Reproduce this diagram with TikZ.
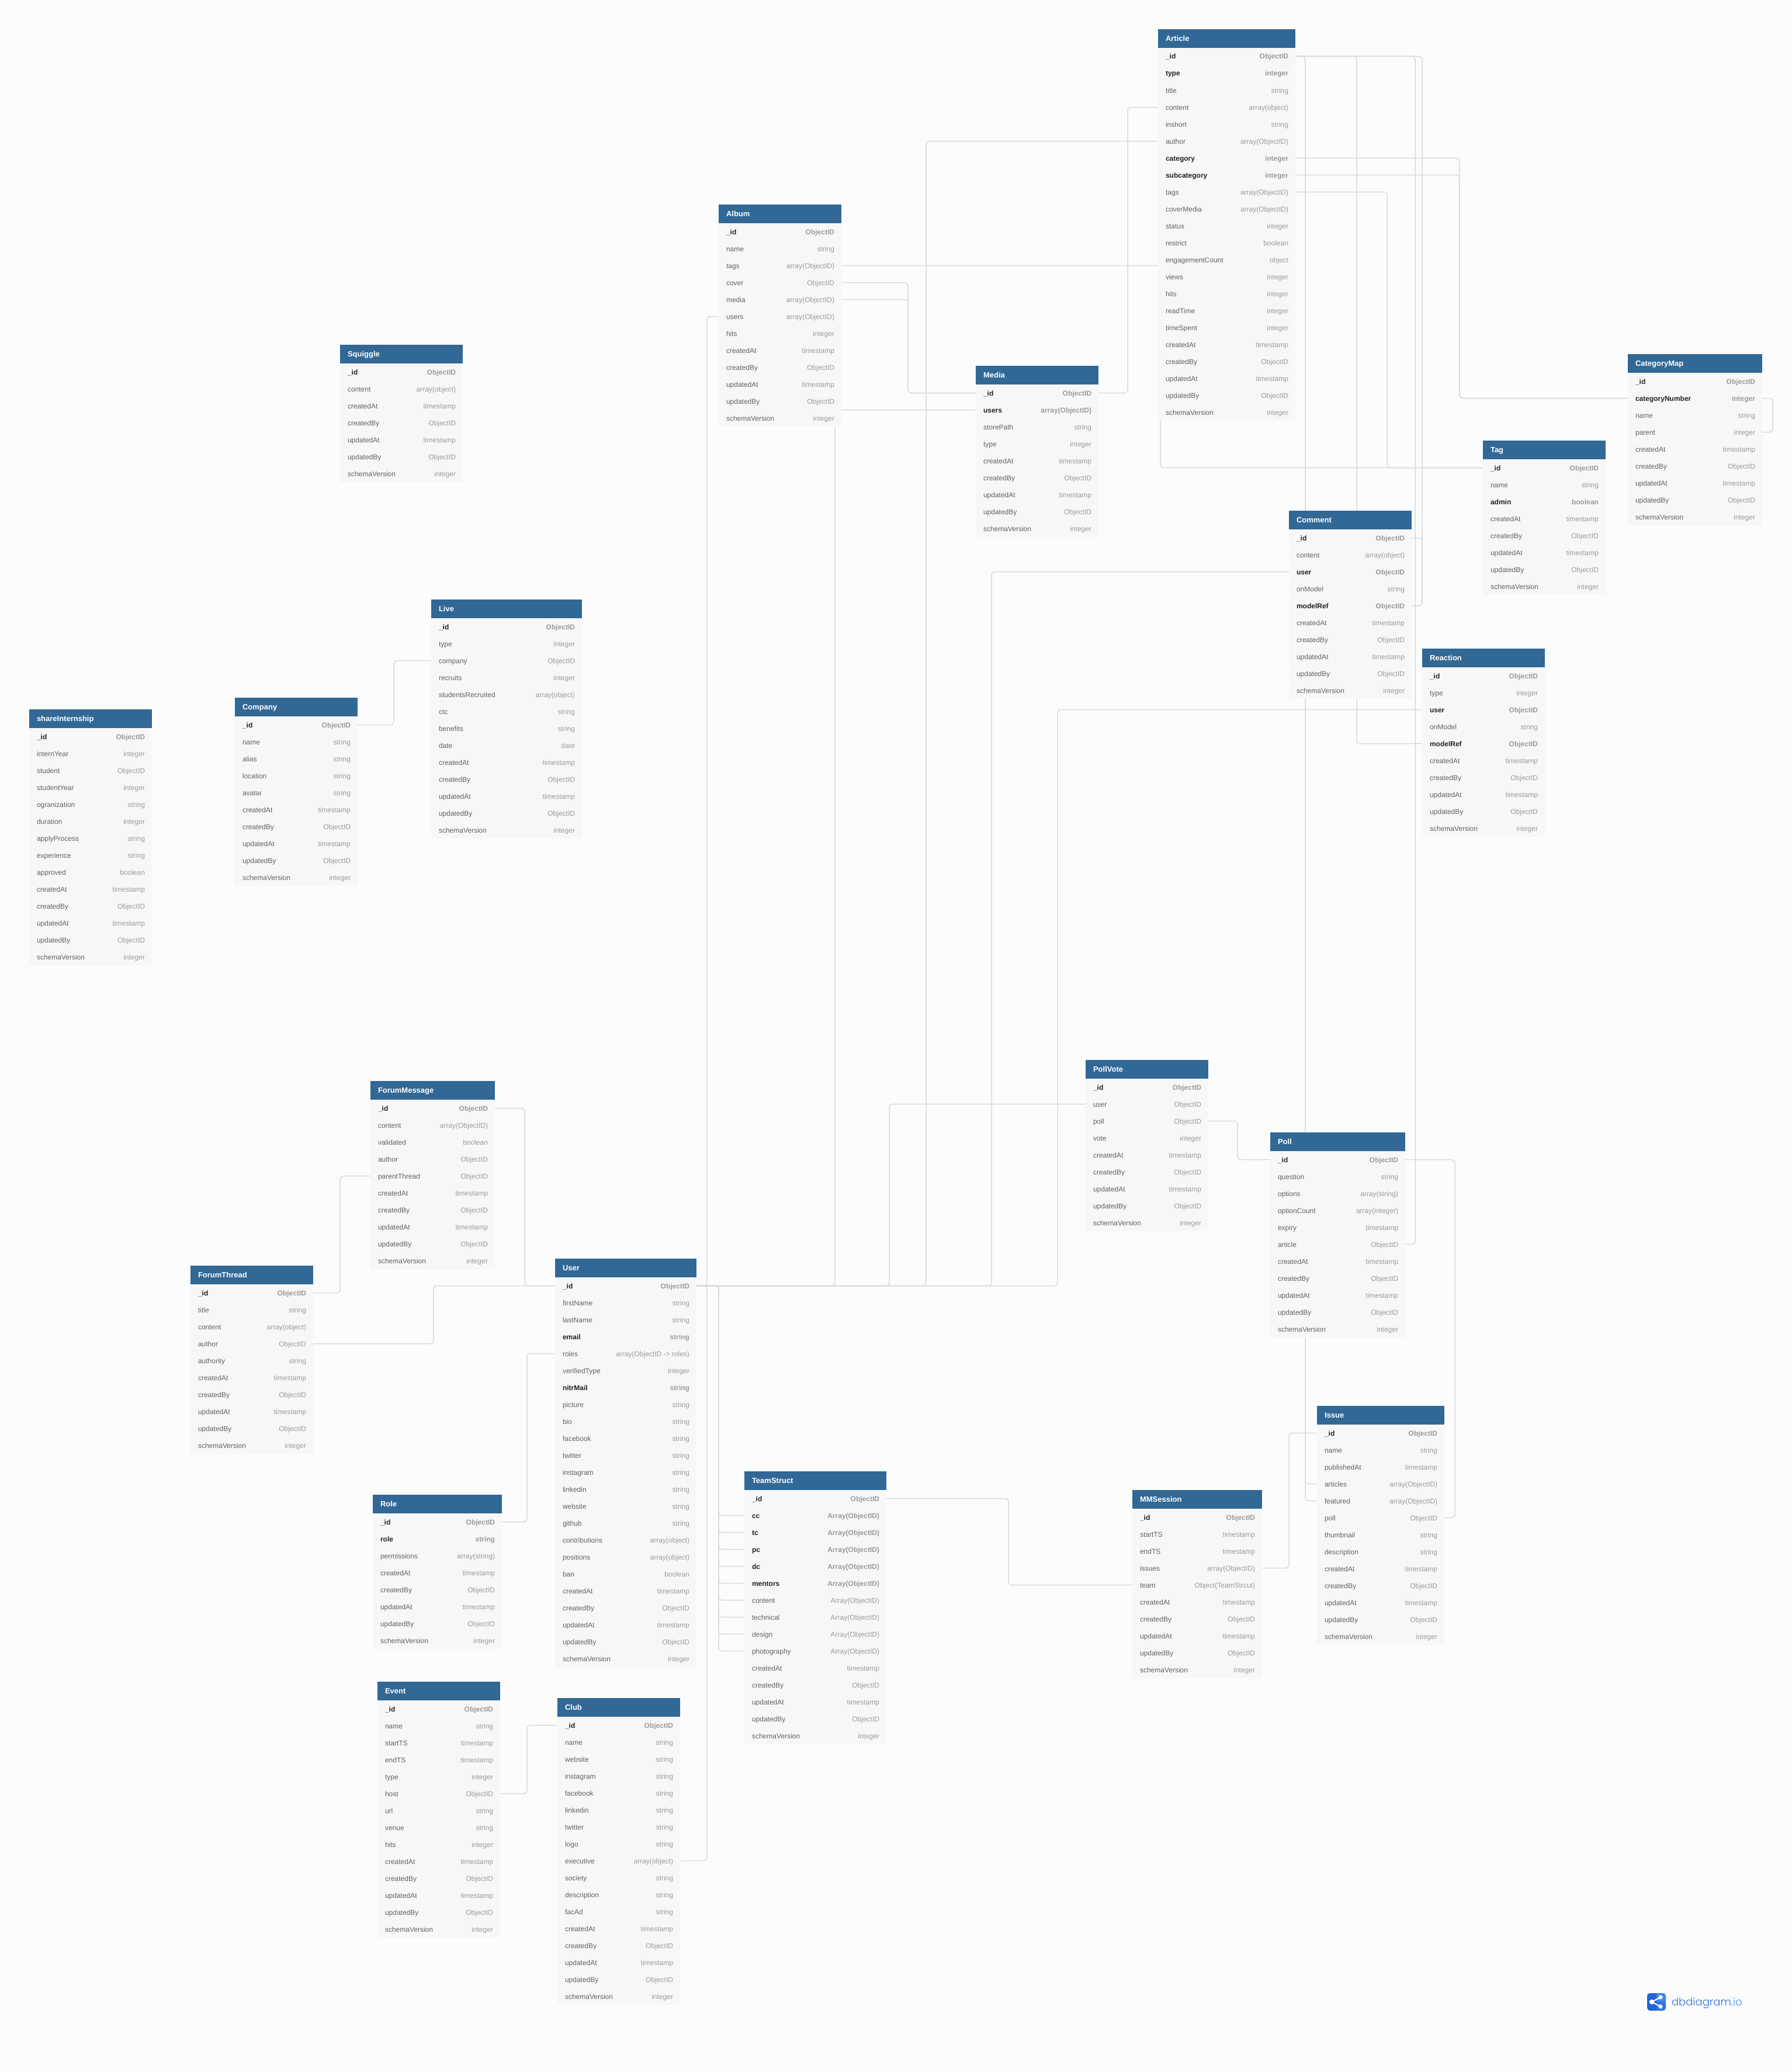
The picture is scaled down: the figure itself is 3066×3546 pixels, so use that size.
\documentclass[tikz,border=0pt]{standalone}
\usepackage{fontspec}
\setmainfont{Liberation Sans}
\newfontfamily\logofont[UprightFont=* Light]{Poppins}
\pgfdeclarelayer{paper}
\pgfdeclarelayer{links}
\pgfsetlayers{paper,links,main}
\definecolor{pagebg}{HTML}{FCFCFC}
\definecolor{rowbg}{HTML}{F7F7F7}
\definecolor{hdrbg}{HTML}{316896}
\definecolor{linkcol}{HTML}{DADADA}
\definecolor{fieldcol}{HTML}{626262}
\definecolor{typecol}{HTML}{9B9B9B}
\definecolor{keycol}{HTML}{222222}
\definecolor{logoblue}{HTML}{2264D6}
\definecolor{logomid}{HTML}{2E74E4}
\definecolor{logolight}{HTML}{3F86F0}
\definecolor{logotext}{HTML}{2F70D8}
\definecolor{logotextb}{HTML}{4A90F0}
\tikzset{
  hdrbox/.style={fill=hdrbg,draw=none,inner sep=0pt,outer sep=0pt,minimum height=32pt,anchor=north west},
  hdrtext/.style={text=white,font=\fontsize{13}{13}\selectfont\bfseries,inner sep=0pt,outer sep=0pt,anchor=base west},
  rowbox/.style={fill=rowbg,draw=none,inner sep=0pt,outer sep=0pt,minimum height=29pt,anchor=north west},
  fieldtext/.style={text=fieldcol,font=\fontsize{12}{12}\selectfont,inner sep=0pt,outer sep=0pt,anchor=base west},
  keytext/.style={text=keycol,font=\fontsize{12}{12}\selectfont\bfseries,inner sep=0pt,outer sep=0pt,anchor=base west},
  typetext/.style={text=typecol,font=\fontsize{12}{12}\selectfont,inner sep=0pt,outer sep=0pt,anchor=base east},
  keytype/.style={text=typecol,font=\fontsize{12}{12}\selectfont\bfseries,inner sep=0pt,outer sep=0pt,anchor=base east},
  rel/.style={draw=linkcol,line width=1.5pt,rounded corners=6pt},
}
\newcount\dbN
\newcommand{\dbrow}[5]{% key, display, type, name style, type style
  \node[rowbox,minimum width=\dbW pt] (\dbId-#1) at (\dbX,\the\numexpr\dbTop+32+29*\dbN\relax) {};
  \node[#4] (\dbId-#1-name) at ([shift={(13,4.5)}]\dbId-#1.west) {#2};
  \node[#5] (\dbId-#1-type) at ([shift={(-12,4.5)}]\dbId-#1.east) {#3};
  \global\advance\dbN by 1\relax
}
\newcommand{\fld}[2]{\dbrow{#1}{#1}{#2}{fieldtext}{typetext}}
\newcommand{\fldB}[2]{\dbrow{#1}{#1}{#2}{keytext}{keytype}}
\newcommand{\dbtable}[5]{% id, x, y, w, body
  \def\dbId{#1}\def\dbX{#2}\def\dbTop{#3}\def\dbW{#4}\dbN=0\relax
  \node[hdrbox,minimum width=#4 pt] (#1) at (#2,#3) {};
  \node[hdrtext] (#1-title) at ([shift={(13,4.5)}]#1.west) {#1};
  \dbrow{id}{\_id}{ObjectID}{keytext}{keytype}
  #5
  \fld{createdAt}{timestamp}
  \fld{createdBy}{ObjectID}
  \fld{updatedAt}{timestamp}
  \fld{updatedBy}{ObjectID}
  \fld{schemaVersion}{integer}
}
\newcommand{\rel}[3]{\draw[rel] (#1) -- (#1 -| #2,0) -- (#3 -| #2,0) -- (#3);}
\begin{document}
\begin{tikzpicture}[x=1pt,y=-1pt]
\useasboundingbox (0,0) rectangle (3066,3546);
\begin{pgfonlayer}{paper}
  \fill[pagebg] (0,0) rectangle (3066,3546);
\end{pgfonlayer}

\dbtable{Article}{1982}{50}{235}{
  \fldB{type}{integer}\fld{title}{string}\fld{content}{array(object)}\fld{inshort}{string}
  \fld{author}{array(ObjectID)}\fldB{category}{integer}\fldB{subcategory}{integer}
  \fld{tags}{array(ObjectID)}\fld{coverMedia}{array(ObjectID)}\fld{status}{integer}
  \fld{restrict}{boolean}\fld{engagementCount}{object}\fld{views}{integer}\fld{hits}{integer}
  \fld{readTime}{integer}\fld{timeSpent}{integer}}
\dbtable{Album}{1230}{350}{210}{
  \fld{name}{string}\fld{tags}{array(ObjectID)}\fld{cover}{ObjectID}\fld{media}{array(ObjectID)}
  \fld{users}{array(ObjectID)}\fld{hits}{integer}}
\dbtable{Media}{1670}{626}{210}{
  \fldB{users}{array(ObjectID)}\fld{storePath}{string}\fld{type}{integer}}
\dbtable{CategoryMap}{2786}{606}{230}{
  \fldB{categoryNumber}{integer}\fld{name}{string}\fld{parent}{integer}}
\dbtable{Tag}{2538}{754}{210}{
  \fld{name}{string}\fldB{admin}{boolean}}
\dbtable{Comment}{2206}{874}{210}{
  \fld{content}{array(object)}\fldB{user}{ObjectID}\fld{onModel}{string}\fldB{modelRef}{ObjectID}}
\dbtable{Reaction}{2434}{1110}{210}{
  \fld{type}{integer}\fldB{user}{ObjectID}\fld{onModel}{string}\fldB{modelRef}{ObjectID}}
\dbtable{Squiggle}{582}{590}{210}{
  \fld{content}{array(object)}}
\dbtable{Live}{738}{1026}{258}{
  \fld{type}{integer}\fld{company}{ObjectID}\fld{recruits}{integer}\fld{studentsRecruited}{array(object)}
  \fld{ctc}{string}\fld{benefits}{string}\fld{date}{date}}
\dbtable{Company}{402}{1194}{210}{
  \fld{name}{string}\fld{alias}{string}\fld{location}{string}\fld{avatar}{string}}
\dbtable{shareInternship}{50}{1214}{210}{
  \fld{internYear}{integer}\fld{student}{ObjectID}\fld{studentYear}{integer}\fld{ogranization}{string}
  \fld{duration}{integer}\fld{applyProcess}{string}\fld{experience}{string}\fld{approved}{boolean}}
\dbtable{PollVote}{1858}{1814}{210}{
  \fld{user}{ObjectID}\fld{poll}{ObjectID}\fld{vote}{integer}}
\dbtable{Poll}{2174}{1938}{231}{
  \fld{question}{string}\fld{options}{array(string)}\fld{optionCount}{array(integer)}
  \fld{expiry}{timestamp}\fld{article}{ObjectID}}
\dbtable{ForumMessage}{634}{1850}{213}{
  \fld{content}{array(ObjectID)}\fld{validated}{boolean}\fld{author}{ObjectID}\fld{parentThread}{ObjectID}}
\dbtable{ForumThread}{326}{2166}{210}{
  \fld{title}{string}\fld{content}{array(object)}\fld{author}{ObjectID}\fld{authority}{string}}
\dbtable{User}{950}{2154}{242}{
  \fld{firstName}{string}\fld{lastName}{string}\fldB{email}{string}\fld{roles}{array(ObjectID -> roles)}
  \fld{verifiedType}{integer}\fldB{nitrMail}{string}\fld{picture}{string}\fld{bio}{string}
  \fld{facebook}{string}\fld{twitter}{string}\fld{instagram}{string}\fld{linkedin}{string}
  \fld{website}{string}\fld{github}{string}\fld{contributions}{array(object)}\fld{positions}{array(object)}
  \fld{ban}{boolean}}
\dbtable{TeamStruct}{1274}{2518}{243}{
  \fldB{cc}{Array(ObjectID)}\fldB{tc}{Array(ObjectID)}\fldB{pc}{Array(ObjectID)}\fldB{dc}{Array(ObjectID)}
  \fldB{mentors}{Array(ObjectID)}\fld{content}{Array(ObjectID)}\fld{technical}{Array(ObjectID)}
  \fld{design}{Array(ObjectID)}\fld{photography}{Array(ObjectID)}}
\dbtable{MMSession}{1938}{2550}{222}{
  \fld{startTS}{timestamp}\fld{endTS}{timestamp}\fld{issues}{array(ObjectID)}\fld{team}{Object(TeamStrcut)}}
\dbtable{Issue}{2254}{2406}{218}{
  \fld{name}{string}\fld{publishedAt}{timestamp}\fld{articles}{array(ObjectID)}\fld{featured}{array(ObjectID)}
  \fld{poll}{ObjectID}\fld{thumbnail}{string}\fld{description}{string}}
\dbtable{Role}{638}{2558}{221}{
  \fldB{role}{string}\fld{permissions}{array(string)}}
\dbtable{Event}{646}{2878}{210}{
  \fld{name}{string}\fld{startTS}{timestamp}\fld{endTS}{timestamp}\fld{type}{integer}\fld{host}{ObjectID}
  \fld{url}{string}\fld{venue}{string}\fld{hits}{integer}}
\dbtable{Club}{954}{2906}{210}{
  \fld{name}{string}\fld{website}{string}\fld{instagram}{string}\fld{facebook}{string}\fld{linkedin}{string}
  \fld{twitter}{string}\fld{logo}{string}\fld{executive}{array(object)}\fld{society}{string}
  \fld{description}{string}\fld{facAd}{string}}

\begin{pgfonlayer}{links}
  % into User._id, right side
  \rel{Album-users.west}{1210}{User-id.east}
  \rel{Club-executive.east}{1210}{User-id.east}
  \rel{Media-users.west}{1429}{User-id.east}
  \rel{PollVote-user.west}{1522}{User-id.east}
  \rel{Article-author.west}{1585}{User-id.east}
  \rel{Comment-user.west}{1697}{User-id.east}
  \rel{Reaction-user.west}{1810}{User-id.east}
  \rel{TeamStruct-cc.west}{1230}{User-id.east}
  \rel{TeamStruct-tc.west}{1230}{User-id.east}
  \rel{TeamStruct-pc.west}{1230}{User-id.east}
  \rel{TeamStruct-dc.west}{1230}{User-id.east}
  \rel{TeamStruct-mentors.west}{1230}{User-id.east}
  \rel{TeamStruct-content.west}{1230}{User-id.east}
  \rel{TeamStruct-technical.west}{1230}{User-id.east}
  \rel{TeamStruct-design.west}{1230}{User-id.east}
  \rel{TeamStruct-photography.west}{1230}{User-id.east}
  % into User._id, left side
  \rel{ForumMessage-id.east}{898}{User-id.west}
  \rel{ForumThread-author.east}{742}{User-id.west}
  \rel{Role-id.east}{902}{User-roles.west}
  \rel{ForumThread-id.east}{582}{ForumMessage-parentThread.west}
  \rel{Event-host.east}{902}{Club-id.west}
  \rel{Company-id.east}{674}{Live-company.west}
  % album, media, tags
  \rel{Album-cover.east}{1554}{Media-id.west}
  \rel{Album-media.east}{1554}{Media-id.west}
  \rel{Media-id.east}{1930}{Article-content.west}
  \rel{Album-tags.east}{1986}{Tag-id.west}
  \rel{Article-tags.east}{2374}{Tag-id.west}
  % category
  \rel{Article-category.east}{2498}{CategoryMap-categoryNumber.west}
  \rel{Article-subcategory.east}{2498}{CategoryMap-categoryNumber.west}
  \rel{CategoryMap-categoryNumber.east}{3034}{CategoryMap-parent.east}
  % from Article._id
  \rel{Article-id.east}{2234}{Issue-articles.west}
  \rel{Article-id.east}{2234}{Issue-featured.west}
  \rel{Article-id.east}{2322}{Reaction-modelRef.west}
  \rel{Article-id.east}{2422}{Poll-article.east}
  \rel{Article-id.east}{2434}{Comment-modelRef.east}
  \rel{Comment-id.east}{2434}{Comment-modelRef.east}
  % poll, team, issue
  \rel{PollVote-poll.east}{2118}{Poll-id.west}
  \rel{Poll-id.east}{2490}{Issue-poll.east}
  \rel{TeamStruct-id.east}{1726}{MMSession-team.west}
  \rel{MMSession-issues.east}{2206}{Issue-id.west}
\end{pgfonlayer}

% logo
\node[fill=logoblue,rounded corners=5pt,minimum width=32pt,minimum height=30pt,inner sep=0pt,outer sep=0pt,anchor=north west] (logo) at (2819,3411) {};
\begin{scope}
  \clip[rounded corners=5pt] (logo.north west) rectangle (logo.south east);
  \fill[logomid] (logo.north) rectangle (logo.south east);
  \fill[logolight] (logo.north) rectangle (logo.east);
\end{scope}
\coordinate (logoa) at ([shift={(-8,0)}]logo.center);
\coordinate (logob) at ([shift={(7,-8)}]logo.center);
\coordinate (logoc) at ([shift={(7,8)}]logo.center);
\draw[white,line width=2pt] (logob) -- (logoa) -- (logoc);
\fill[white] (logoa) circle (4.2pt) (logob) circle (3.6pt) (logoc) circle (3.6pt);
\node[inner sep=0pt,outer sep=0pt,anchor=base west,font=\logofont\fontsize{18}{18}\selectfont] (logotxt) at (2861,3432) {\textcolor{logotext}{dbdiagram}\textcolor{logotextb}{.io}};
\end{tikzpicture}
\end{document}
